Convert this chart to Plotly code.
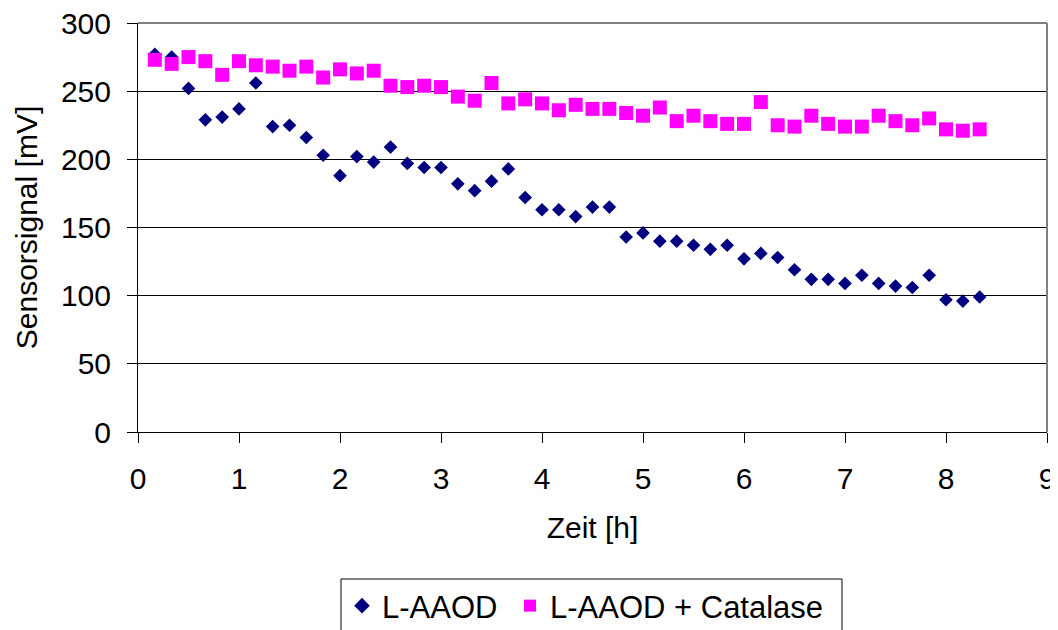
import plotly.graph_objects as go

# time points every 10 min (h)
zeit = [k / 6 for k in range(1, 51)]

l_aaod = [277, 275, 252, 229, 231, 237, 256, 224, 225, 216,
          203, 188, 202, 198, 209, 197, 194, 194, 182, 177,
          184, 193, 172, 163, 163, 158, 165, 165, 143, 146,
          140, 140, 137, 134, 137, 127, 131, 128, 119, 112,
          112, 109, 115, 109, 107, 106, 115, 97, 96, 99]

l_aaod_catalase = [273, 270, 275, 272, 262, 272, 269, 268, 265, 268,
                   260, 266, 263, 265, 254, 253, 254, 253, 246, 243,
                   256, 241, 244, 241, 236, 240, 237, 237, 234, 232,
                   238, 228, 232, 228, 226, 226, 242, 225, 224, 232,
                   226, 224, 224, 232, 228, 225, 230, 222, 221, 222]

series_names = ["L-AAOD", "L-AAOD + Catalase"]

FONT = "Liberation Sans, Arial, sans-serif"
FS = 30
LFS = 31

fig = go.Figure()
fig.add_trace(go.Scatter(
    x=zeit, y=l_aaod, mode="markers", name=series_names[0],
    legend="legend",
    marker=dict(symbol="diamond", size=10.5, color="#000080",
                line=dict(width=0))))
fig.add_trace(go.Scatter(
    x=zeit, y=l_aaod_catalase, mode="markers", name=series_names[1],
    legend="legend2",
    marker=dict(symbol="square", size=14, color="#FF00FF",
                line=dict(width=0))))

legend_common = dict(orientation="h", xanchor="left",
                     xref="container", yref="container",
                     y=0.082, yanchor="top",
                     bgcolor="rgba(0,0,0,0)", borderwidth=0,
                     font=dict(family=FONT, size=LFS, color="black"),
                     itemsizing="constant")

fig.update_layout(
    width=1050, height=622,
    margin=dict(l=130, r=11, t=15, b=198, autoexpand=False),
    paper_bgcolor="white", plot_bgcolor="white",
    font=dict(family=FONT, size=FS, color="black"),
    showlegend=True,
    legend=dict(x=334 / 1050, **legend_common),
    legend2=dict(x=502 / 1050, **legend_common),
    xaxis=dict(range=[0, 9], tickmode="linear", tick0=0, dtick=1,
               automargin=False, ticklabeloverflow="allow",
               showgrid=False, zeroline=False,
               showline=True, linecolor="black", linewidth=1,
               ticks="outside", ticklen=10, tickcolor="black",
               ticklabelstandoff=10,
               title=dict(text="Zeit [h]", standoff=22,
                          font=dict(family=FONT, size=FS))),
    yaxis=dict(range=[0, 300], tickmode="linear", tick0=0, dtick=50,
               automargin=False, ticklabeloverflow="allow",
               showgrid=True, gridcolor="black", gridwidth=1,
               zeroline=False,
               showline=True, linecolor="black", linewidth=1,
               ticks="outside", ticklen=10, tickcolor="black",
               ticklabelstandoff=10,
               title=dict(text="Sensorsignal [mV]", standoff=14,
                          font=dict(family=FONT, size=FS))),
)

# top border line of plot area (300 gridline) and grey right border
fig.add_shape(type="line", xref="paper", yref="paper",
              x0=0, x1=1, y0=1, y1=1,
              line=dict(color="black", width=1))
fig.add_shape(type="line", xref="paper", yref="paper",
              x0=1, x1=1, y0=0, y1=1,
              line=dict(color="#808080", width=2))
# legend frame
fig.add_shape(type="rect", xref="paper", yref="paper",
              x0=(333 - 130) / 909, x1=(834 - 130) / 909,
              y0=-0.52, y1=(424 - 571) / 409,
              line=dict(color="black", width=1),
              fillcolor="rgba(0,0,0,0)")

fig.write_html("out.html")
